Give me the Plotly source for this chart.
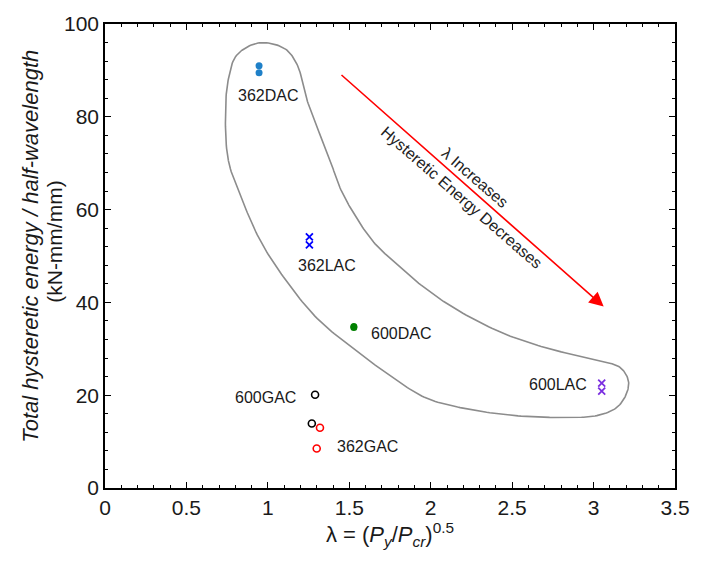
import numpy as np
import plotly.graph_objects as go

# Specimen results: slenderness lambda vs. hysteretic energy per half-wavelength
specimens = ["362DAC", "362LAC", "600DAC", "600GAC", "362GAC", "600LAC"]
lam = {
    "362DAC": [0.946, 0.946],
    "362LAC": [1.255, 1.255],
    "600DAC": [1.528, 1.528],
    "600GAC": [1.29, 1.27],
    "362GAC": [1.32, 1.30],
    "600LAC": [3.05, 3.05],
}
energy = {
    "362DAC": [91.0, 89.5],
    "362LAC": [54.1, 52.4],
    "600DAC": [34.6, 34.8],
    "600GAC": [20.1, 13.9],
    "362GAC": [13.0, 8.5],
    "600LAC": [22.6, 20.9],
}
styles = {
    "362DAC": dict(symbol="circle", color="#1f80c8", filled=True),
    "362LAC": dict(symbol="x-thin", color="#0000ff", filled=False),
    "600DAC": dict(symbol="circle", color="#008000", filled=True),
    "600GAC": dict(symbol="circle-open", color="#000000", filled=False),
    "362GAC": dict(symbol="circle-open", color="#ff0000", filled=False),
    "600LAC": dict(symbol="x-thin", color="#7b2fe0", filled=False),
}
# label positions (data units)
label_x = [1.0, 1.364, 1.82, 0.985, 1.61, 2.78]
label_y = [84.6, 47.9, 33.3, 19.4, 9.0, 22.2]

# envelope drawn around the double-angle / lipped-angle group (control points)
env_x = [0.758, 0.740, 0.758, 0.807, 0.940, 1.104, 1.183, 1.231, 1.304, 1.377,
         1.443, 1.534, 1.649, 1.789, 1.892, 2.110, 2.414, 2.717, 3.044, 3.166,
         3.214, 3.202, 3.141, 3.020, 2.820, 2.517, 2.213, 1.971, 1.771, 1.546,
         1.304, 1.104, 0.958, 0.849]
env_y = [70.5, 81.2, 88.2, 93.2, 95.9, 94.7, 91.0, 84.6, 77.6, 71.2,
         64.7, 58.8, 53.0, 48.3, 45.1, 39.5, 33.8, 30.1, 27.4, 25.9,
         23.1, 20.3, 17.3, 15.6, 15.2, 15.6, 17.1, 19.4, 23.7, 29.5,
         36.5, 45.1, 53.0, 61.5]


def closed_catmull_rom(xs, ys, sx=165.0, sy=4.68, n_seg=16, alpha=0.5):
    """Smooth closed outline through control points (centripetal Catmull-Rom)."""
    P = np.column_stack([np.asarray(xs) * sx, np.asarray(ys) * sy])
    n = len(P)
    out = []
    for i in range(n):
        p0, p1, p2, p3 = P[(i - 1) % n], P[i], P[(i + 1) % n], P[(i + 2) % n]
        t0 = 0.0
        t1 = t0 + np.linalg.norm(p1 - p0) ** alpha
        t2 = t1 + np.linalg.norm(p2 - p1) ** alpha
        t3 = t2 + np.linalg.norm(p3 - p2) ** alpha
        for t in np.linspace(t1, t2, n_seg, endpoint=False):
            a1 = (t1 - t) / (t1 - t0) * p0 + (t - t0) / (t1 - t0) * p1
            a2 = (t2 - t) / (t2 - t1) * p1 + (t - t1) / (t2 - t1) * p2
            a3 = (t3 - t) / (t3 - t2) * p2 + (t - t2) / (t3 - t2) * p3
            b1 = (t2 - t) / (t2 - t0) * a1 + (t - t0) / (t2 - t0) * a2
            b2 = (t3 - t) / (t3 - t1) * a2 + (t - t1) / (t3 - t1) * a3
            out.append((t2 - t) / (t2 - t1) * b1 + (t - t1) / (t2 - t1) * b2)
    out.append(out[0])
    out = np.array(out)
    return out[:, 0] / sx, out[:, 1] / sy


FONT = "Liberation Sans, Arial, sans-serif"
TXT = "#1a1a1a"

fig = go.Figure()

ox, oy = closed_catmull_rom(env_x, env_y)
fig.add_trace(go.Scatter(
    x=ox, y=oy, mode="lines",
    line=dict(color="#8c8c8c", width=1.6),
    hoverinfo="skip", showlegend=False,
))

for name in specimens:
    s = styles[name]
    if s["symbol"] == "x-thin":
        marker = dict(symbol="x-thin", size=7, line=dict(color=s["color"], width=1.8))
    elif s["filled"]:
        marker = dict(symbol="circle", size=7, color=s["color"])
    else:
        marker = dict(symbol="circle-open", size=7, color=s["color"],
                      line=dict(color=s["color"], width=1.6))
    fig.add_trace(go.Scatter(
        x=lam[name], y=energy[name], mode="markers", marker=marker,
        name=name, showlegend=False,
    ))

for name, lx, ly in zip(specimens, label_x, label_y):
    fig.add_annotation(x=lx, y=ly, text=name, showarrow=False,
                       font=dict(family=FONT, size=16, color=TXT))

# trend arrow and its captions
fig.add_annotation(x=3.062, y=39.1, ax=1.443, ay=89.3,
                   xref="x", yref="y", axref="x", ayref="y",
                   text="", showarrow=True, arrowhead=2, arrowsize=1.8,
                   arrowwidth=1.6, arrowcolor="#ff0000")
fig.add_annotation(x=2.27, y=66.9, text="λ Increases", showarrow=False,
                   textangle=41, font=dict(family=FONT, size=16, color="#222"))
fig.add_annotation(x=2.19, y=62.6, text="Hysteretic Energy Decreases",
                   showarrow=False, textangle=41,
                   font=dict(family=FONT, size=16, color="#222"))

# y-axis title, two lines
fig.add_annotation(xref="paper", yref="paper", x=-0.13, y=0.522,
                   text="<i>Total hysteretic energy / half-wavelength</i>",
                   textangle=-90, showarrow=False, xanchor="center", yanchor="middle",
                   font=dict(family=FONT, size=22, color=TXT))
fig.add_annotation(xref="paper", yref="paper", x=-0.09, y=0.53,
                   text="(kN-mm/mm)",
                   textangle=-90, showarrow=False, xanchor="center", yanchor="middle",
                   font=dict(family=FONT, size=21, color=TXT))

axis_common = dict(
    showline=True, linecolor="black", linewidth=1.5, mirror="allticks",
    ticks="inside", ticklen=6, tickwidth=1.2, tickcolor="black",
    showgrid=False, zeroline=False,
    tickfont=dict(family=FONT, size=21, color=TXT),
)

fig.update_xaxes(
    range=[0, 3.5], tickvals=[0, 0.5, 1, 1.5, 2, 2.5, 3, 3.5],
    ticktext=["0", "0.5", "1", "1.5", "2", "2.5", "3", "3.5"],
    minor=dict(dtick=0.1, ticks="inside", ticklen=3, tickcolor="black", tickwidth=1),
    title=dict(text="λ = (<i>P<sub>y</sub></i>/<i>P<sub>cr</sub></i>)<sup>0.5</sup>",
               font=dict(family=FONT, size=22, color=TXT), standoff=2),
    **axis_common,
)
fig.update_yaxes(
    range=[0, 100], dtick=20,
    minor=dict(dtick=4, ticks="inside", ticklen=3, tickcolor="black", tickwidth=1),
    **axis_common,
)

fig.update_layout(
    width=702, height=567,
    margin=dict(l=105, r=20, t=20, b=79),
    plot_bgcolor="white", paper_bgcolor="white",
    showlegend=False,
)

fig.write_html("out.html")
